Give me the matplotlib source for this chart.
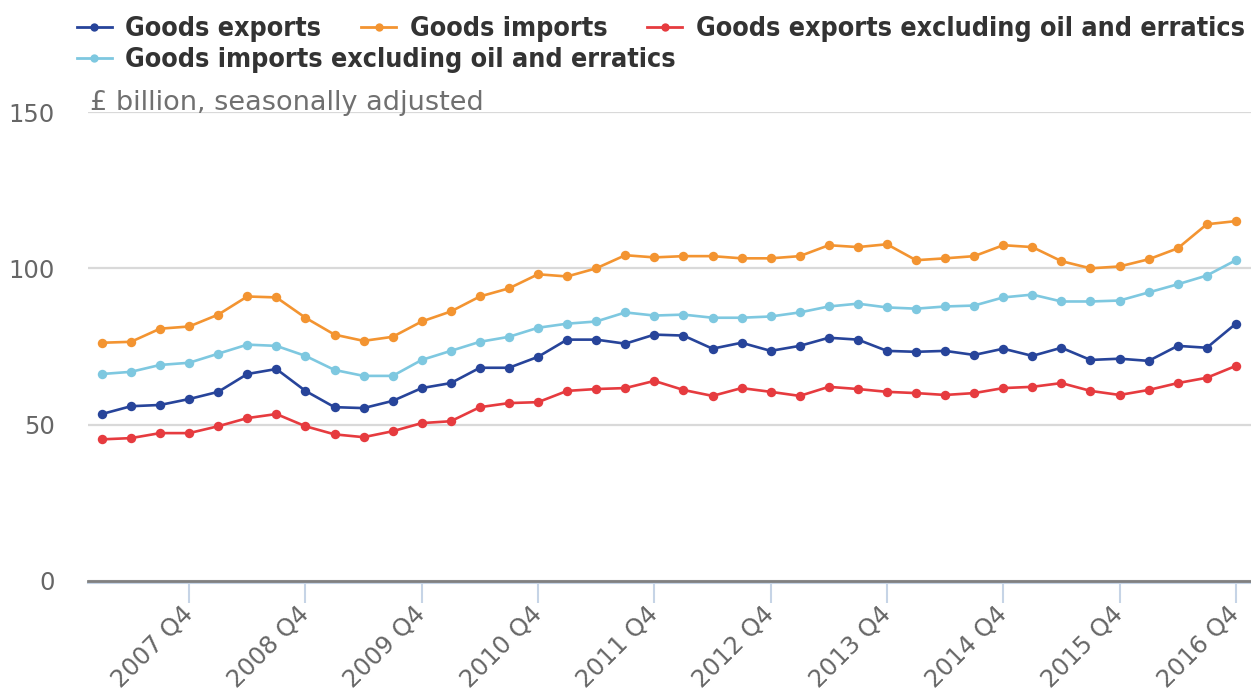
import numpy as np
import matplotlib.pyplot as plt
from matplotlib.lines import Line2D

# quarters 2007 Q1 .. 2016 Q4
quarters = [f"{y} Q{q}" for y in range(2007, 2017) for q in range(1, 5)]

goods_exports = [53.4, 55.9, 56.3, 58.2, 60.5, 66.2, 67.8, 60.8, 55.6, 55.3,
                 57.6, 61.7, 63.3, 68.2, 68.2, 71.7, 77.2, 77.2, 75.9, 78.8,
                 78.5, 74.3, 76.2, 73.6, 75.2, 77.8, 77.2, 73.6, 73.3, 73.6,
                 72.3, 74.3, 72.0, 74.6, 70.7, 71.1, 70.4, 75.2, 74.6, 82.3]
goods_imports = [76.2, 76.5, 80.7, 81.4, 85.2, 91.0, 90.7, 84.2, 78.8, 76.8,
                 78.1, 83.0, 86.2, 91.0, 93.6, 98.1, 97.4, 100.0, 104.2, 103.5,
                 103.9, 103.9, 103.2, 103.2, 103.9, 107.4, 106.8, 107.7, 102.6, 103.2,
                 103.9, 107.4, 106.8, 102.3, 100.0, 100.6, 102.9, 106.4, 114.1, 115.1]
exports_ex_oil = [45.3, 45.7, 47.3, 47.3, 49.5, 52.1, 53.4, 49.5, 46.9, 46.0,
                  47.9, 50.5, 51.1, 55.6, 56.9, 57.2, 60.8, 61.4, 61.7, 64.0,
                  61.1, 59.2, 61.7, 60.5, 59.2, 62.1, 61.4, 60.5, 60.1, 59.5,
                  60.1, 61.7, 62.1, 63.3, 60.8, 59.5, 61.1, 63.3, 65.0, 68.8]
imports_ex_oil = [66.2, 66.9, 69.1, 69.8, 72.7, 75.6, 75.2, 72.0, 67.5, 65.6,
                  65.6, 70.7, 73.6, 76.5, 78.1, 81.0, 82.3, 83.0, 85.9, 84.9,
                  85.2, 84.2, 84.2, 84.6, 85.9, 87.8, 88.7, 87.5, 87.1, 87.8,
                  88.1, 90.7, 91.6, 89.4, 89.4, 89.7, 92.3, 94.9, 97.7, 102.6]

labels = ["Goods exports", "Goods imports",
          "Goods exports excluding oil and erratics",
          "Goods imports excluding oil and erratics"]
colors = ["#27449a", "#f39431", "#e63b3f", "#7ec8e0"]
series = [goods_exports, goods_imports, exports_ex_oil, imports_ex_oil]

plt.rcParams['font.family'] = ['DejaVu Sans']

fig = plt.figure(figsize=(12.51, 6.91), dpi=100)
ax = fig.add_axes([0.0703, 0.1592, 0.9297, 0.6787])

x = np.arange(len(quarters))
draw_order = [3, 1, 0, 2]
for i in draw_order:
    ax.plot(x, series[i], color=colors[i], lw=1.9, marker='o', ms=6.8,
            markeredgewidth=0, zorder=3)

ax.set_xlim(-0.48, 39.52)
ax.set_ylim(0, 150)
ax.set_yticks([0, 50, 100, 150])
ax.grid(axis='y', color='#d9d9d9', lw=1.6)
ax.set_axisbelow(True)
for s in ['top', 'right', 'left']:
    ax.spines[s].set_visible(False)
ax.spines['bottom'].set_color('#808080')
ax.spines['bottom'].set_linewidth(2)
ax.axhline(-0.8, color='#c6d4e6', lw=1.5, clip_on=False, zorder=1)
ax.tick_params(axis='y', length=0, pad=24, labelsize=17.5, labelcolor='#666666')

tick_pos = [i for i, q in enumerate(quarters) if q.endswith('Q4')]
ax.set_xticks(tick_pos)
ax.set_xticklabels([quarters[i] for i in tick_pos], rotation=45, ha='right',
                   va='center', rotation_mode='anchor')
ax.tick_params(axis='x', length=16, width=1.5, color='#c6d4e6', pad=5,
               labelsize=17.5, labelcolor='#666666')

ax.text(0.002, 1.004, "£ billion, seasonally adjusted", color='#707070',
        fontsize=19.5, ha='left', va='baseline', transform=ax.transAxes)

handles = [Line2D([0], [0], color=c, lw=2, marker='o', ms=6, markeredgewidth=0)
           for c in colors]
leg_font = {'family': 'DejaVu Sans', 'weight': 'bold', 'size': 19.3,
            'stretch': 'condensed'}
leg1 = fig.legend(handles[:3], labels[:3], ncol=3, loc='center left',
                  bbox_to_anchor=(0.0615, 0.958), frameon=False, prop=leg_font,
                  handlelength=1.3, handletextpad=0.5, columnspacing=1.5,
                  borderaxespad=0, borderpad=0)
leg2 = fig.legend(handles[3:], labels[3:], loc='center left',
                  bbox_to_anchor=(0.0615, 0.913), frameon=False, prop=leg_font,
                  handlelength=1.3, handletextpad=0.5,
                  borderaxespad=0, borderpad=0)
for leg in (leg1, leg2):
    for t in leg.get_texts():
        t.set_color('#333333')

fig.savefig('out.png', dpi=100)
